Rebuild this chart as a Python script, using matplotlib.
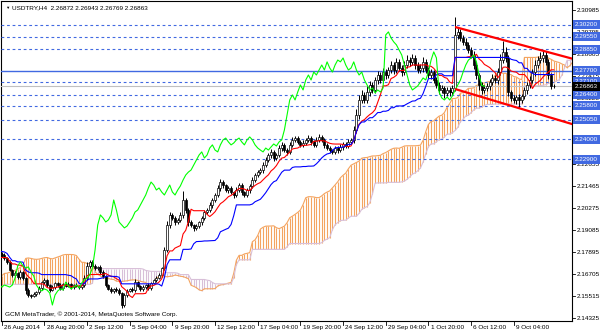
import numpy as np
import pandas as pd
import matplotlib
matplotlib.use("Agg")
import matplotlib.pyplot as plt
from matplotlib.transforms import blended_transform_factory

plt.rcParams['font.family'] = ['Liberation Sans', 'DejaVu Sans']

# ---------------- data ----------------
title_text = "USDTRY,H4  2.26872 2.26943 2.26769 2.26863"
copyright_text = "GCM MetaTrader, \u00a9 2001-2014, MetaQuotes Software Corp."

time_labels = ["26 Aug 2014", "28 Aug 20:00", "2 Sep 12:00", "5 Sep 04:00", "9 Sep 20:00",
               "12 Sep 12:00", "17 Sep 04:00", "19 Sep 20:00", "24 Sep 12:00", "29 Sep 04:00",
               "1 Oct 20:00", "6 Oct 12:00", "9 Oct 04:00"]
time_label_bars = [0, 16, 32, 48, 64, 80, 96, 112, 128, 144, 160, 176, 192]

axis_prices = [2.30985, 2.29795, 2.28605, 2.27415, 2.26225, 2.25035, 2.23845, 2.22655,
               2.21465, 2.20275, 2.19085, 2.17895, 2.16705, 2.15515, 2.14325]
level_prices = [2.30200, 2.29550, 2.28850, 2.27700, 2.27100, 2.26400, 2.25800, 2.25050,
                2.24000, 2.22900]
solid_level = 2.27700
bid_price = 2.26863

channel_upper = [(170, 2.30065), (214, 2.28350)]
channel_lower = [(170, 2.26712), (214, 2.24810)]

first_open = 2.1780
close = [
    2.1773, 2.1757, 2.1736, 2.1692, 2.1665, 2.1676, 2.1654, 2.1681, 2.1649, 2.1584, 2.1557, 2.1552, 2.1562, 2.1573, 2.1595, 2.1627,
    2.1638, 2.1611, 2.1584, 2.1600, 2.1622, 2.1611, 2.1595, 2.1617, 2.1606, 2.1617, 2.1600, 2.1611, 2.1606, 2.1600, 2.1611, 2.1649,
    2.1714, 2.1736, 2.1714, 2.1703, 2.1709, 2.1681, 2.1660, 2.1611, 2.1590, 2.1579, 2.1590, 2.1584, 2.1568, 2.1503, 2.1557, 2.1579,
    2.1590, 2.1584, 2.1627, 2.1606, 2.1590, 2.1600, 2.1611, 2.1595, 2.1622, 2.1638, 2.1649, 2.1665, 2.1703, 2.1800, 2.1936, 2.1990,
    2.1974, 2.1952, 2.1963, 2.1990, 2.2071, 2.2017, 2.1952, 2.1936, 2.1920, 2.1930, 2.1952, 2.1974, 2.2006, 2.2017, 2.2044, 2.2071,
    2.2098, 2.2136, 2.2168, 2.2152, 2.2125, 2.2136, 2.2114, 2.2098, 2.2125, 2.2152, 2.2114, 2.2098, 2.2125, 2.2147, 2.2179, 2.2206,
    2.2222, 2.2233, 2.2260, 2.2287, 2.2314, 2.2331, 2.2298, 2.2314, 2.2352, 2.2369, 2.2341, 2.2331, 2.2369, 2.2396, 2.2406, 2.2385,
    2.2369, 2.2379, 2.2396, 2.2406, 2.2385, 2.2369, 2.2396, 2.2412, 2.2396, 2.2369, 2.2352, 2.2341, 2.2331, 2.2352, 2.2341, 2.2358,
    2.2374, 2.2363, 2.2385, 2.2396, 2.2450, 2.2531, 2.2612, 2.2639, 2.2612, 2.2655, 2.2693, 2.2666, 2.2720, 2.2747, 2.2720, 2.2763,
    2.2747, 2.2774, 2.2801, 2.2774, 2.2818, 2.2785, 2.2763, 2.2801, 2.2828, 2.2818, 2.2839, 2.2801, 2.2774, 2.2785, 2.2818, 2.2774,
    2.2747, 2.2763, 2.2720, 2.2693, 2.2666, 2.2677, 2.2650, 2.2666, 2.2655, 2.2677, 2.2964, 2.2980, 2.2947, 2.2926, 2.2910, 2.2883,
    2.2855, 2.2801, 2.2747, 2.2693, 2.2666, 2.2677, 2.2688, 2.2709, 2.2731, 2.2720, 2.2763, 2.2828, 2.2872, 2.2839, 2.2655, 2.2623,
    2.2612, 2.2628, 2.2612, 2.2634, 2.2666, 2.2693, 2.2720, 2.2763, 2.2801, 2.2828, 2.2839, 2.2855, 2.2818, 2.2745, 2.2690, 2.26863,
]
# wick lengths in pips (0.0001) above/below the candle body
up_wick = [
    8, 10, 6, 12, 8, 10, 6, 14, 8, 6, 10, 8, 12, 6, 10, 8,
    10, 6, 8, 12, 6, 8, 10, 6, 8, 12, 6, 8, 10, 6, 8, 14,
    20, 12, 8, 10, 6, 8, 12, 6, 8, 10, 6, 8, 10, 6, 12, 8,
    6, 10, 14, 8, 6, 10, 8, 12, 6, 8, 10, 12, 8, 15, 20, 18,
    10, 8, 12, 14, 50, 10, 8, 12, 6, 10, 8, 12, 10, 8, 14, 10,
    12, 14, 16, 10, 8, 12, 10, 8, 14, 12, 10, 8, 12, 10, 14, 12,
    10, 12, 14, 16, 12, 14, 10, 12, 16, 14, 10, 12, 14, 16, 12, 10,
    12, 14, 10, 16, 12, 10, 14, 16, 12, 10, 12, 10, 8, 12, 10, 14,
    12, 10, 14, 12, 20, 30, 25, 28, 15, 35, 20, 15, 18, 22, 15, 20,
    15, 18, 20, 15, 22, 18, 15, 20, 25, 18, 22, 15, 18, 20, 25, 15,
    18, 15, 12, 15, 14, 18, 12, 15, 14, 18, 95, 20, 18, 15, 20, 18,
    15, 20, 15, 12, 14, 16, 18, 15, 20, 18, 22, 30, 60, 25, 15, 12,
    14, 12, 15, 12, 14, 16, 20, 18, 25, 20, 30, 25, 20, 18, 15, 8,
]
dn_wick = [
    10, 8, 12, 6, 10, 8, 12, 8, 10, 20, 8, 12, 6, 10, 8, 12,
    8, 10, 12, 6, 10, 8, 12, 10, 6, 8, 12, 10, 8, 12, 10, 8,
    10, 12, 8, 10, 12, 8, 10, 12, 8, 10, 12, 8, 10, 16, 12, 10,
    8, 12, 10, 8, 12, 10, 8, 10, 12, 8, 10, 8, 12, 10, 12, 15,
    12, 15, 10, 12, 14, 16, 20, 12, 15, 10, 12, 14, 10, 12, 10, 14,
    12, 10, 14, 16, 12, 14, 12, 16, 12, 10, 14, 12, 10, 14, 12, 10,
    12, 10, 14, 12, 10, 14, 16, 12, 10, 14, 12, 16, 10, 12, 14, 12,
    10, 14, 12, 10, 16, 12, 10, 14, 12, 16, 12, 14, 10, 12, 16, 12,
    14, 12, 10, 12, 15, 18, 20, 15, 18, 15, 20, 18, 15, 20, 18, 15,
    20, 18, 15, 20, 18, 15, 22, 18, 15, 20, 18, 22, 15, 18, 20, 15,
    18, 20, 15, 18, 20, 15, 25, 18, 20, 15, 18, 20, 15, 18, 20, 15,
    18, 20, 22, 25, 20, 18, 15, 20, 18, 15, 20, 18, 15, 20, 20, 18,
    15, 20, 45, 18, 15, 20, 18, 15, 20, 18, 15, 20, 18, 22, 20, 10,
]
# bars before the visible window (only needed for the Ichimoku look-back)
pre_high = [
    2.1440, 2.1430, 2.1415, 2.1425, 2.1445, 2.1440, 2.1425, 2.1410, 2.1425, 2.1440, 2.1455, 2.1450, 2.1465,
    2.1480, 2.1475, 2.1460, 2.1450, 2.1460, 2.1475, 2.1490, 2.1505, 2.1500, 2.1490, 2.1475, 2.1460, 2.1450,
    2.1435, 2.1420, 2.1415, 2.1420, 2.1435, 2.1430, 2.1415, 2.1405, 2.1400, 2.1560, 2.1575, 2.1590, 2.1605,
    2.1600, 2.1590, 2.1600, 2.1615, 2.1630, 2.1645, 2.1640, 2.1655, 2.1675, 2.1695, 2.1725, 2.1765, 2.1805,
    2.1835, 2.1860, 2.1855, 2.1840, 2.1835, 2.1825, 2.1810, 2.1800, 2.1815, 2.1830, 2.1820, 2.1800, 2.1790,
    2.1800, 2.1815, 2.1810, 2.1795, 2.1780, 2.1770, 2.1760, 2.1770, 2.1780, 2.1785, 2.1780, 2.1790, 2.1795,
]
pre_low = [
    2.1400, 2.1390, 2.1380, 2.1385, 2.1400, 2.1405, 2.1385, 2.1375, 2.1380, 2.1400, 2.1415, 2.1420, 2.1425,
    2.1440, 2.1445, 2.1430, 2.1420, 2.1425, 2.1440, 2.1455, 2.1470, 2.1470, 2.1460, 2.1445, 2.1430, 2.1420,
    2.1405, 2.1390, 2.1385, 2.1390, 2.1400, 2.1400, 2.1385, 2.1375, 2.1370, 2.1380, 2.1535, 2.1550, 2.1565,
    2.1565, 2.1555, 2.1560, 2.1575, 2.1590, 2.1605, 2.1605, 2.1610, 2.1630, 2.1650, 2.1670, 2.1700, 2.1740,
    2.1780, 2.1810, 2.1815, 2.1800, 2.1800, 2.1790, 2.1775, 2.1765, 2.1770, 2.1790, 2.1785, 2.1765, 2.1755,
    2.1765, 2.1780, 2.1775, 2.1760, 2.1745, 2.1735, 2.1725, 2.1730, 2.1745, 2.1755, 2.1745, 2.1755, 2.1765,
]

# ---------------- derived OHLC / Ichimoku ----------------
c = np.array(close)
o = np.concatenate([[first_open], c[:-1]])
h = np.maximum(o, c) + np.array(up_wick) * 1e-4
l = np.minimum(o, c) - np.array(dn_wick) * 1e-4
n = len(c)
bars = np.arange(n)

n_pre = len(pre_high)
hs = pd.Series(np.concatenate([pre_high, h]))
ls = pd.Series(np.concatenate([pre_low, l]))
idx_all = np.arange(len(hs)) - n_pre
tenkan = (hs.rolling(9).max() + ls.rolling(9).min()) / 2
kijun = (hs.rolling(26).max() + ls.rolling(26).min()) / 2
span_a = (tenkan + kijun) / 2
span_b = (hs.rolling(52).max() + ls.rolling(52).min()) / 2
shift = 26

# ---------------- figure ----------------
W, H = 600, 333
fig = plt.figure(figsize=(W / 100, H / 100), dpi=100)
fig.patch.set_facecolor('white')
ax_left, ax_right, ax_top, ax_bot = 1, 572, 1, 321
ax = fig.add_axes([ax_left / W, (H - ax_bot) / H, (ax_right - ax_left) / W, (ax_bot - ax_top) / H])
px_per_bar = 2.667
x0_px = 1.7
ax.set_xlim((ax_left - x0_px) / px_per_bar, (ax_right - x0_px) / px_per_bar)
ax.set_ylim(2.14165, 2.31472)

# cloud
sx = idx_all + shift
va = span_a.values
vb = span_b.values
ok = ~np.isnan(va) & ~np.isnan(vb)
up = ok & (va >= vb)
dn = ok & (va < vb)
ax.vlines(sx[up], vb[up], va[up], colors='#F4A460', lw=0.8, zorder=1)
ax.vlines(sx[dn], va[dn], vb[dn], colors='#D8BFD8', lw=0.8, zorder=1)
ax.plot(sx, va, color='#F4A460', lw=0.8, zorder=2)
ax.plot(sx, vb, color='#D8BFD8', lw=0.8, zorder=2)

# horizontal levels
for p in level_prices:
    if p == solid_level:
        ax.axhline(p, color='#4169E1', lw=1.0, zorder=3)
    else:
        ax.axhline(p, color='#4169E1', lw=0.8, ls=(0, (2.5, 2.5)), zorder=3)
ax.axhline(bid_price, color='#C0C0C0', lw=0.8, zorder=3)

# candles
ax.vlines(bars, l, h, colors='black', lw=0.7, zorder=4)
bull = c >= o
body_h = np.maximum(np.abs(c - o), 0.00008)
ax.bar(bars[bull], body_h[bull], bottom=np.minimum(o, c)[bull], width=0.72,
       color='white', edgecolor='black', linewidth=0.5, zorder=5)
ax.bar(bars[~bull], body_h[~bull], bottom=np.minimum(o, c)[~bull], width=0.72,
       color='black', edgecolor='black', linewidth=0.5, zorder=5)

# ichimoku lines
ax.plot(idx_all, tenkan, color='red', lw=0.8, zorder=6)
ax.plot(idx_all, kijun, color='blue', lw=0.8, zorder=6)
ax.plot(bars - shift, c, color='#00FF00', lw=0.8, zorder=6)

# channel
for seg in (channel_upper, channel_lower):
    ax.plot([seg[0][0], seg[1][0]], [seg[0][1], seg[1][1]], color='red', lw=1.6, zorder=7,
            solid_capstyle='butt')

# axes style
for s in ax.spines.values():
    s.set_color('black')
    s.set_linewidth(0.8)
ax.set_xticks([])
ax.set_yticks([])

fs = 4.6
# price axis
ty = blended_transform_factory(ax.transAxes, ax.transData)
ax_w = ax_right - ax_left
for p in axis_prices:
    ax.plot([1.0, 1.0 + 3 / ax_w], [p, p], transform=ty, color='black', lw=0.6, clip_on=False)
    ax.text(1.0 + 5 / ax_w, p, "%.5f" % p, transform=ty, fontsize=fs, va='center', ha='left',
            color='black', clip_on=False)
for p in level_prices:
    ax.text(1.0 + 3 / ax_w, p, "%.5f" % p, transform=ty, fontsize=fs, va='center', ha='left',
            color='white', clip_on=False, zorder=10,
            bbox=dict(boxstyle='square,pad=0.3', fc='#4169E1', ec='none'))
ax.text(1.0 + 3 / ax_w, bid_price, "%.5f" % bid_price, transform=ty, fontsize=fs, va='center',
        ha='left', color='white', clip_on=False, zorder=11,
        bbox=dict(boxstyle='square,pad=0.3', fc='black', ec='none'))

# time axis
tx = blended_transform_factory(ax.transData, ax.transAxes)
ax_h = ax_bot - ax_top
for b, lab in zip(time_label_bars, time_labels):
    ax.plot([b, b], [0, -4 / ax_h], transform=tx, color='black', lw=0.6, clip_on=False)
    ax.text(b + 0.9, -6.5 / ax_h, lab, transform=tx, fontsize=fs, va='center', ha='left',
            color='black', clip_on=False)

# texts
fig.text(5 / W, 1 - 7.5 / H, "\u25BC", fontsize=3.2, va='center', ha='left', color='black')
fig.text(12 / W, 1 - 7.5 / H, title_text, fontsize=fs, va='center', ha='left', color='black')
fig.text(5 / W, 1 - 314 / H, copyright_text, fontsize=fs, va='center', ha='left', color='black')

fig.savefig("out.png", dpi=100, facecolor='white')
